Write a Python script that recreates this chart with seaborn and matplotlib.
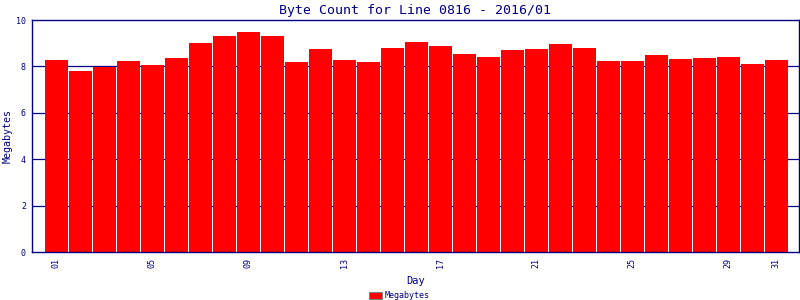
import matplotlib
matplotlib.use("Agg")
import matplotlib.pyplot as plt
import seaborn as sns
import pandas as pd

days = [f"{d:02d}" for d in range(1, 32)]
megabytes = [8.28, 7.80, 7.99, 8.23, 8.06, 8.36, 9.01, 9.31, 9.48, 9.31,
             8.19, 8.75, 8.28, 8.19, 8.79, 9.05, 8.88, 8.53, 8.41, 8.71,
             8.75, 8.97, 8.79, 8.23, 8.23, 8.49, 8.32, 8.36, 8.41, 8.10, 8.28]
tick_days = ["01", "05", "09", "13", "17", "21", "25", "29", "31"]
y_ticks = [0, 2, 4, 6, 8, 10]

title = "Byte Count for Line 0816 - 2016/01"
navy = "#000080"
red = "#ff0000"

sns.set_theme(style="white")
plt.rcParams["font.family"] = ["DejaVu Sans Mono"]

df = pd.DataFrame({"Day": days, "Megabytes": megabytes})

fig = plt.figure(figsize=(8, 3), dpi=100)
ax = fig.add_axes([31.5 / 800, 48 / 300, 767.5 / 800, 232 / 300])

for yv in y_ticks[1:-1]:
    ax.axhline(yv, color=navy, lw=0.9, zorder=0)

sns.barplot(data=df, x="Day", y="Megabytes", color=red, saturation=1,
            width=0.958, ax=ax, label="Megabytes", zorder=2)
for p in ax.patches:
    p.set_linewidth(0)
    p.set_antialiased(False)

ax.set_xlim(-1.03, 30.95)
ax.set_ylim(0, 10)
ax.set_yticks(y_ticks)
ax.set_yticklabels([str(v) for v in y_ticks], fontsize=6, color=navy)
idx = [days.index(d) for d in tick_days]
ax.set_xticks(idx)
ax.set_xticklabels(tick_days, rotation=90, fontsize=6, color=navy)
ax.tick_params(axis="both", length=0, pad=4)

for s in ax.spines.values():
    s.set_color(navy)
    s.set_linewidth(1.0)
    s.set_visible(True)

ax.set_xlabel("Day", fontsize=7.5, color=navy, labelpad=6)
ax.set_ylabel("Megabytes", fontsize=7.2, color=navy)
ax.yaxis.set_label_coords((13 - 31.5) / 767.5, 0.5)
ax.set_title(title, fontsize=9.5, color=navy, pad=4)

handles, labels = ax.get_legend_handles_labels()
leg = fig.legend(handles[:1], labels[:1], loc="center", bbox_to_anchor=(399 / 800, 1 - 295.5 / 300),
                 frameon=False, fontsize=6, handlelength=1.6, handleheight=0.9,
                 handletextpad=0.3, borderpad=0)
for t in leg.get_texts():
    t.set_color(navy)
for h in leg.legend_handles:
    h.set_edgecolor("#808080")
    h.set_linewidth(0.8)
if ax.get_legend() is not None:
    ax.get_legend().remove()

fig.savefig("out.png", dpi=100)
